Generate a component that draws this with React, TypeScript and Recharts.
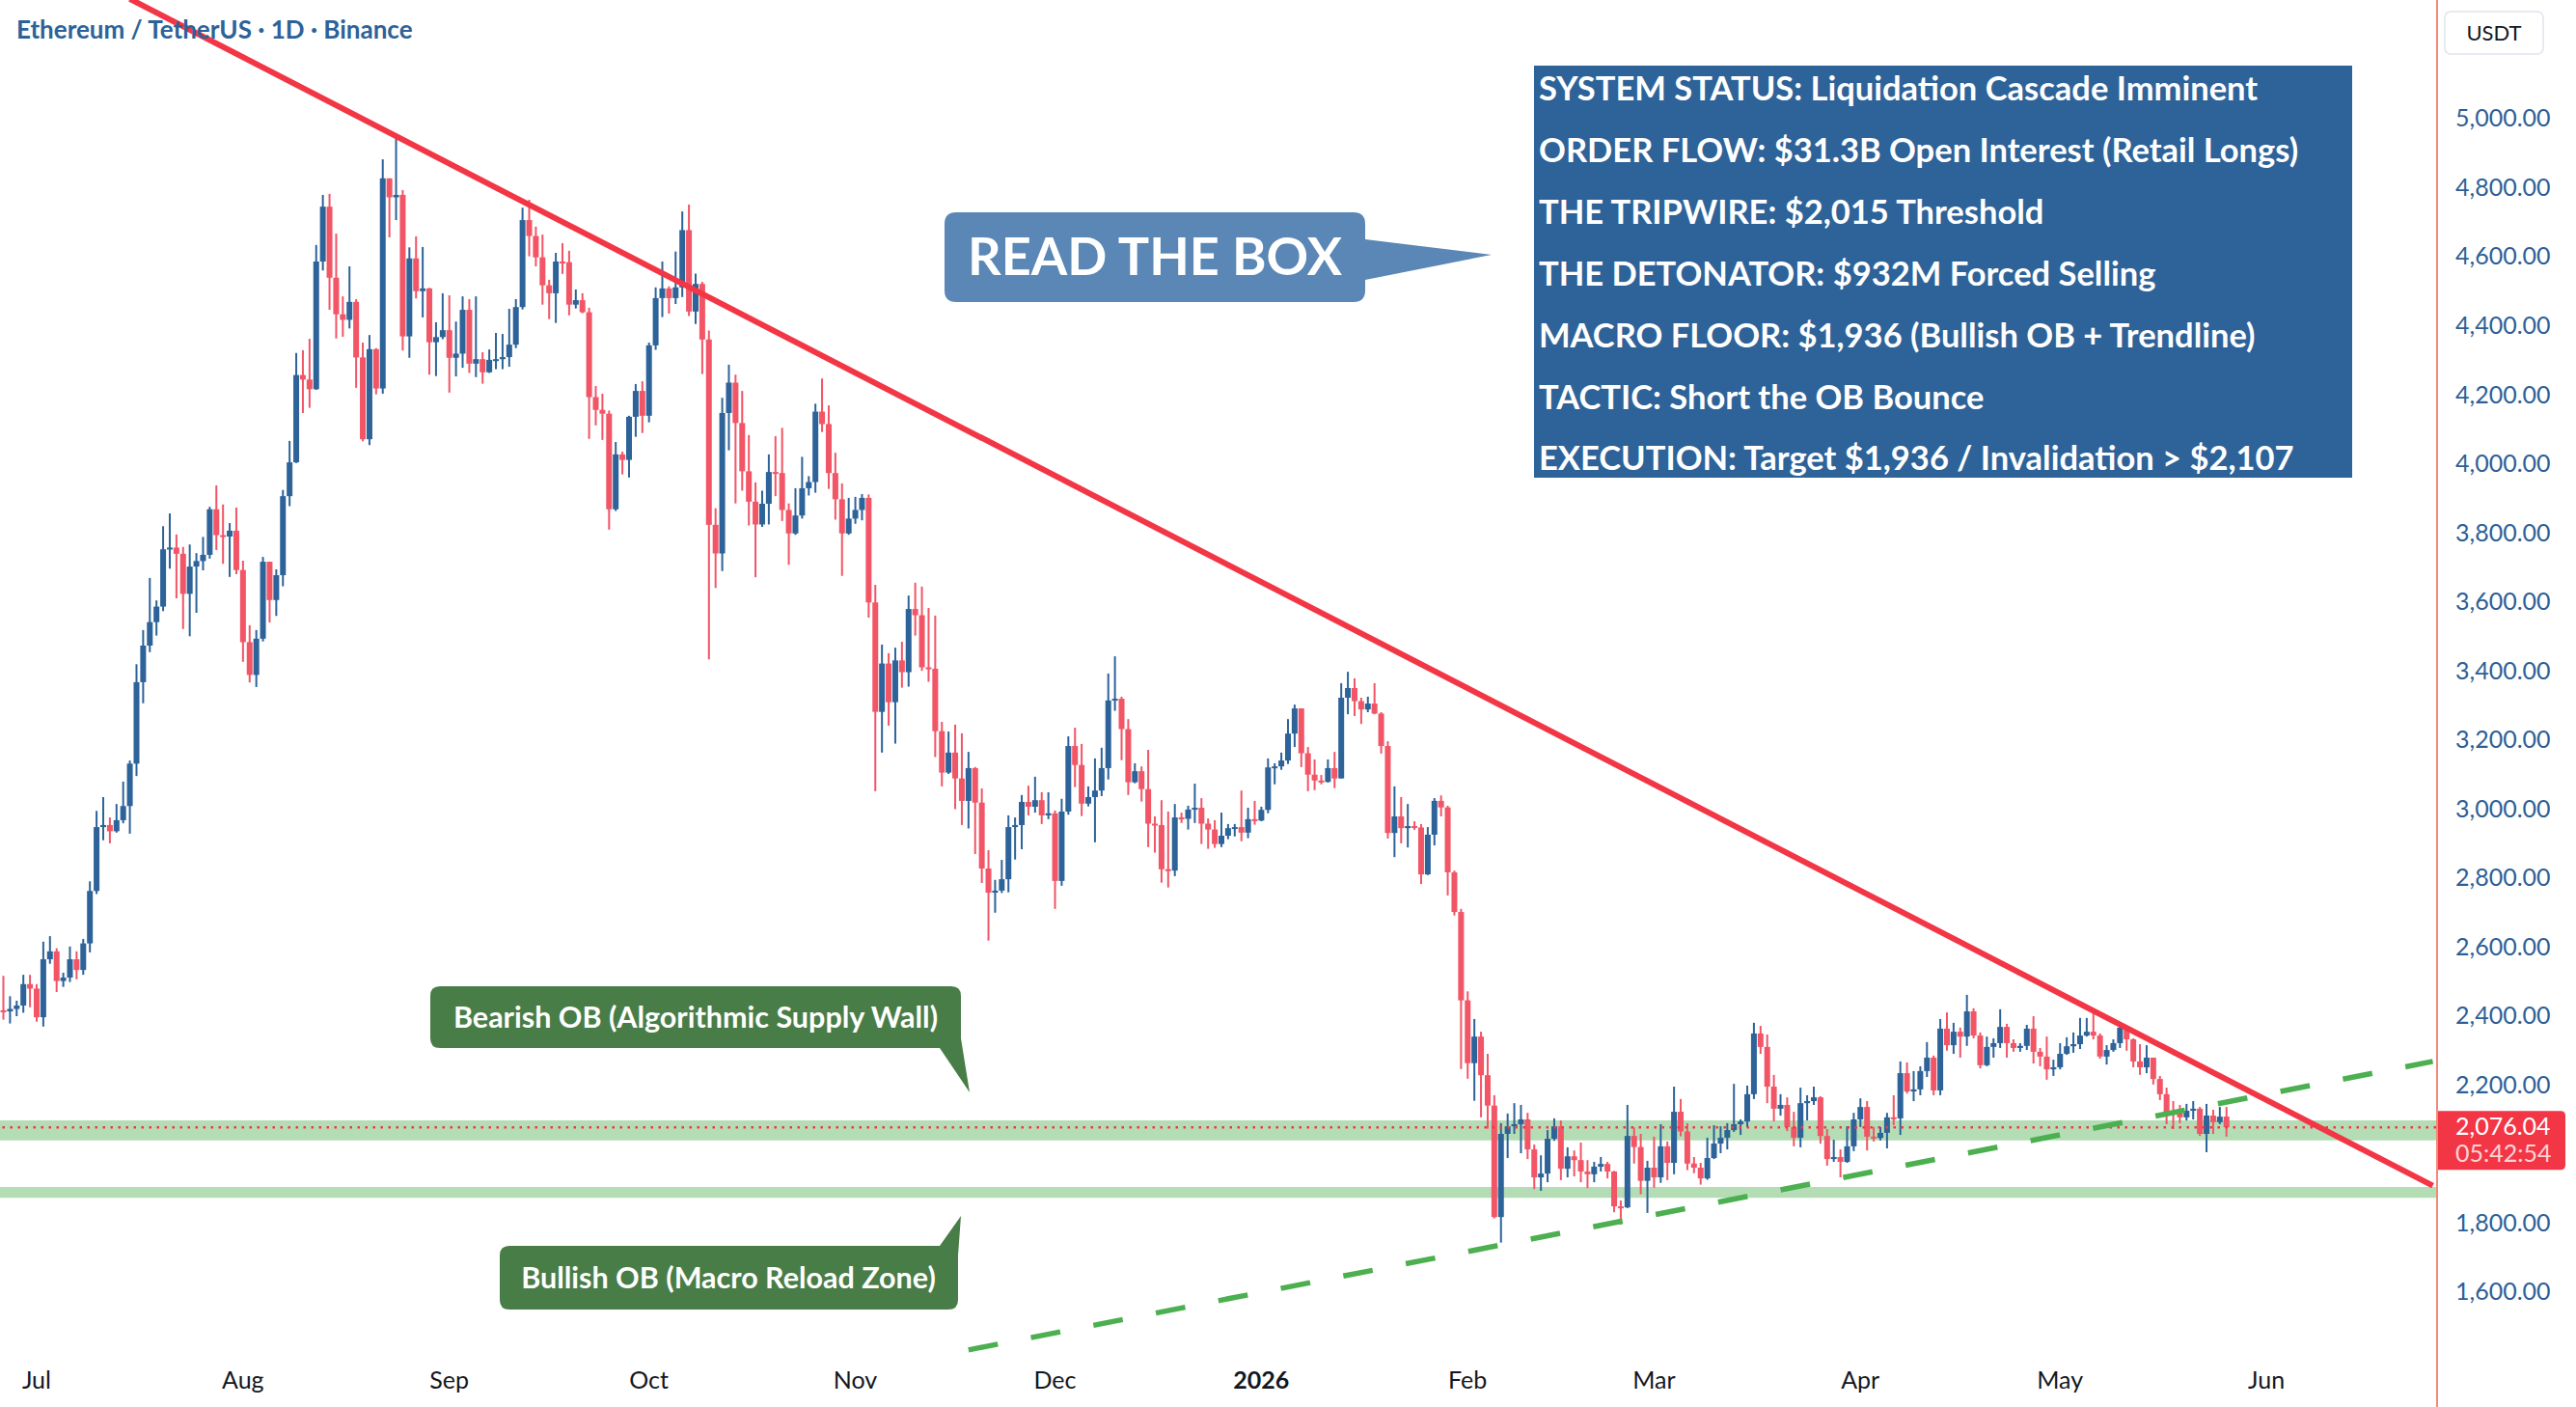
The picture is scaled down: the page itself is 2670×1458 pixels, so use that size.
import React from 'react';
import { ComposedChart, Bar, Line, XAxis, YAxis, ReferenceArea, ReferenceLine } from 'recharts';

const W = 2670;
const H = 1458;
const UP = '#2D6399';
const DOWN = '#F25566';
const RED = '#F23645';
const GREEN = '#4CAF50';
const FONT = 'Lato, "Noto Sans", sans-serif';

// daily ETH/USDT candles starting 26 Jun 2025 (open of a day = previous close)
const firstOpen = 2415;
const closes = [
  2412, 2419, 2429, 2491, 2478,
  // Jul
  2395, 2563, 2586, 2500, 2510, 2563, 2532, 2609, 2761, 2946, 2952, 2934, 2966, 3007, 3130, 3366,
  3472, 3540, 3585, 3751, 3756, 3738, 3622, 3701, 3717, 3735, 3867, 3792, 3788, 3805, 3691,
  // Aug
  3482, 3387, 3492, 3715, 3604, 3676, 3905, 4003, 4256, 4243, 4215, 4585, 4744, 4538, 4432, 4416,
  4468, 4307, 4070, 4331, 4217, 4826, 4771, 4778, 4368, 4594, 4499, 4507, 4351, 4366, 4386,
  // Sep
  4306, 4318, 4445, 4289, 4302, 4264, 4300, 4302, 4308, 4344, 4453, 4705, 4659, 4597, 4516,
  4493, 4585, 4583, 4460, 4473, 4438, 4192, 4155, 4144, 3867, 4026, 4010, 4135, 4210, 4138,
  // Oct
  4342, 4479, 4507, 4479, 4510, 4676, 4440, 4520, 4359, 3822, 3739, 4146, 4234, 4117, 3977, 3889,
  3823, 3883, 3975, 3972, 3865, 3797, 3849, 3928, 3946, 4150, 4114, 3972, 3896, 3797, 3840,
  // Nov
  3865, 3900, 3597, 3280, 3420, 3308, 3429, 3395, 3578, 3560, 3409, 3405, 3224, 3104, 3162,
  3087, 3022, 3117, 3017, 2826, 2756, 2762, 2795, 2946, 2952, 3019, 3005, 3024, 2980, 2986,
  // Dec
  2790, 2991, 3181, 3126, 3014, 3033, 3052, 3117, 3313, 3318, 3230, 3076, 3108, 3056, 2956, 2952,
  2824, 2820, 2974, 2970, 2997, 3002, 2956, 2939, 2897, 2921, 2943, 2946, 2930, 2969, 2965,
  // Jan 2026
  2996, 3119, 3122, 3139, 3217, 3290, 3160, 3098, 3081, 3077, 3117, 3087, 3321, 3349, 3311, 3287,
  3304, 3275, 3181, 2929, 2977, 2943, 2949, 2945, 2809, 2924, 3022, 3003, 2815, 2700, 2444,
  // Feb
  2262, 2339, 2227, 2139, 1816, 2057, 2079, 2085, 2099, 2012, 1931, 1942, 2043, 2079,
  1956, 1992, 1981, 1948, 1940, 1962, 1970, 1948, 1847, 1844, 2051, 2019, 1921, 1959,
  // Mar
  1931, 2021, 1973, 2121, 2064, 1971, 1959, 1928, 1987, 2029, 2046, 2068, 2085, 2093, 2172, 2348,
  2309, 2194, 2130, 2141, 2077, 2046, 2146, 2152, 2163, 2051, 1984, 1990, 1976, 2021, 2099,
  // Apr
  2135, 2049, 2045, 2060, 2105, 2102, 2233, 2180, 2186, 2239, 2278, 2183, 2362, 2314, 2353,
  2339, 2412, 2342, 2256, 2309, 2320, 2367, 2320, 2306, 2312, 2362, 2295, 2281, 2244, 2250,
  // May
  2289, 2311, 2317, 2342, 2353, 2342, 2281, 2300, 2320, 2365, 2331, 2267, 2250,
  2278, 2216, 2172, 2121, 2116, 2105, 2124, 2130, 2057, 2110, 2091, 2107, 2076.04,
];
const highs = [
  2515, 2456, 2443, 2518, 2518,
  2491, 2614, 2630, 2595, 2524, 2600, 2586, 2622, 2789, 2993, 3033, 2974, 3013, 3078, 3139, 3418,
  3517, 3668, 3603, 3818, 3855, 3794, 3758, 3765, 3740, 3787, 3874, 3936, 3881, 3827, 3872,
  3718, 3531, 3517, 3729, 3715, 3693, 3923, 4065, 4320, 4328, 4361, 4633, 4778, 4781, 4666, 4484,
  4571, 4476, 4350, 4372, 4334, 4881, 4826, 4953, 4792, 4626, 4658, 4627, 4509, 4409, 4493,
  4487, 4411, 4484, 4476, 4484, 4322, 4330, 4378, 4375, 4448, 4476, 4741, 4764, 4686, 4663,
  4532, 4610, 4638, 4616, 4504, 4493, 4451, 4224, 4202, 4153, 4062, 4034, 4138, 4230, 4238,
  4350, 4510, 4585, 4513, 4614, 4730, 4750, 4550, 4526, 4385, 3870, 4190, 4286, 4257, 4210, 4082,
  3945, 3921, 4026, 4079, 4103, 3884, 3928, 4019, 3963, 4173, 4246, 4168, 4031, 3942, 3900,
  3903, 3911, 3910, 3648, 3475, 3450, 3466, 3483, 3617, 3654, 3643, 3581, 3559, 3251, 3223,
  3243, 3218, 3164, 3120, 3058, 2879, 2793, 2851, 2980, 2974, 3039, 3066, 3092, 3047, 3047,
  2994, 3028, 3209, 3234, 3187, 3064, 3145, 3176, 3391, 3441, 3324, 3259, 3131, 3122, 3170, 2977,
  3024, 2991, 3013, 2988, 3008, 3072, 3030, 2971, 2966, 2988, 2955, 2955, 3052, 3002, 3022,
  3005, 3145, 3131, 3162, 3259, 3301, 3290, 3178, 3142, 3097, 3142, 3164, 3363, 3396, 3377, 3321,
  3324, 3363, 3279, 3195, 3064, 3033, 3013, 2963, 2955, 2946, 3030, 3038, 3008, 2820, 2709,
  2470, 2390, 2353, 2289, 2169, 2088, 2116, 2146, 2141, 2118, 2026, 1995, 2068, 2102,
  2096, 2018, 2009, 2032, 1981, 1976, 1990, 1976, 1950, 1864, 2141, 2076, 2057, 1979,
  2049, 2085, 2035, 2194, 2158, 2088, 1990, 1973, 2046, 2082, 2079, 2088, 2202, 2099, 2197, 2379,
  2370, 2345, 2228, 2172, 2163, 2121, 2191, 2169, 2194, 2166, 2071, 2040, 2012, 2079, 2118,
  2160, 2152, 2077, 2077, 2118, 2169, 2267, 2264, 2239, 2253, 2323, 2284, 2390, 2409, 2379,
  2365, 2460, 2421, 2351, 2339, 2334, 2418, 2376, 2331, 2320, 2373, 2398, 2306, 2339, 2272,
  2320, 2337, 2351, 2393, 2393, 2407, 2348, 2314, 2331, 2376, 2365, 2334, 2317,
  2314, 2278, 2225, 2191, 2152, 2141, 2144, 2152, 2135, 2144, 2127, 2135, 2135,
];
const lows = [
  2388, 2377, 2398, 2408, 2424,
  2382, 2368, 2550, 2468, 2483, 2497, 2505, 2518, 2583, 2752, 2908, 2899, 2930, 2957, 2927, 3094,
  3305, 3453, 3501, 3572, 3695, 3609, 3520, 3499, 3567, 3690, 3724, 3749, 3709, 3671, 3679,
  3425, 3365, 3352, 3484, 3539, 3558, 3644, 3876, 4001, 4146, 4161, 4213, 4559, 4445, 4362, 4367,
  4391, 4219, 4064, 4053, 4200, 4202, 4655, 4705, 4327, 4306, 4478, 4423, 4257, 4253, 4360,
  4205, 4252, 4277, 4262, 4250, 4231, 4262, 4273, 4273, 4280, 4334, 4446, 4600, 4571, 4460,
  4418, 4407, 4549, 4429, 4449, 4435, 4071, 4110, 4068, 3808, 3862, 3968, 3959, 4077, 4088,
  4119, 4329, 4424, 4434, 4462, 4482, 4427, 4404, 4259, 3432, 3639, 3688, 4038, 3884, 3921, 3820,
  3670, 3816, 3823, 3905, 3833, 3706, 3793, 3840, 3907, 3915, 4091, 3926, 3837, 3674, 3793,
  3825, 3835, 3553, 3050, 3162, 3240, 3188, 3350, 3353, 3501, 3399, 3367, 3149, 3064, 3100,
  2998, 2952, 2942, 2868, 2784, 2617, 2698, 2755, 2757, 2852, 2882, 2980, 2988, 2955, 2969,
  2709, 2776, 2982, 3062, 2978, 3006, 2902, 3036, 3084, 3283, 3140, 3039, 3073, 3020, 2888, 2872,
  2785, 2771, 2804, 2958, 2939, 2958, 2897, 2883, 2886, 2888, 2911, 2919, 2905, 2914, 2953,
  2963, 2986, 3070, 3112, 3129, 3178, 3120, 3050, 3053, 3070, 3075, 3059, 3087, 3273, 3268, 3245,
  3279, 3273, 3159, 2913, 2859, 2899, 2887, 2938, 2781, 2807, 2893, 2977, 2748, 2690, 2245,
  2217, 2153, 2105, 2072, 1812, 1742, 1987, 2057, 2001, 1984, 1897, 1892, 1917, 2037,
  1923, 1931, 1934, 1917, 1900, 1917, 1948, 1928, 1830, 1794, 1842, 1971, 1882, 1828,
  1901, 1915, 1923, 1940, 2050, 1952, 1943, 1910, 1924, 1984, 2001, 2012, 2063, 2054, 2077, 2158,
  2289, 2146, 2093, 2110, 2065, 2021, 2018, 2096, 2141, 2029, 1965, 1976, 1931, 1973, 2007,
  2077, 2009, 2035, 2038, 2015, 2082, 2054, 2174, 2152, 2169, 2222, 2169, 2169, 2298, 2289,
  2278, 2312, 2334, 2247, 2253, 2278, 2306, 2278, 2295, 2295, 2300, 2261, 2253, 2214, 2225,
  2244, 2286, 2292, 2303, 2339, 2331, 2275, 2258, 2295, 2306, 2298, 2250, 2228,
  2233, 2200, 2155, 2085, 2071, 2088, 2096, 2099, 2051, 2004, 2057, 2085, 2049,
];

const totalDays = 366; // visible range incl. empty space on the right
const startMs = Date.UTC(2025, 5, 26);
const monthNames = ['Jan', 'Feb', 'Mar', 'Apr', 'May', 'Jun', 'Jul', 'Aug', 'Sep', 'Oct', 'Nov', 'Dec'];

// 2,000.00 is hidden behind the last-price tag, like on the original
const priceTicks = [1600, 1800, 2200, 2400, 2600, 2800, 3000, 3200, 3400, 3600, 3800, 4000, 4200, 4400, 4600, 4800, 5000];
const yDomain = [1413.8, 5342.8];
const bearishOB = [2038, 2096];
const bullishOB = [1872, 1903];
const lastPrice = 2076.04;
const countdown = '05:42:54';
const redTrend = [{ i: 19, p: 5346 }, { i: 365, p: 1907 }];
const greenTrend = [{ i: 145, p: 1431 }, { i: 365, p: 2267 }];

const infoLines = [
  'SYSTEM STATUS: Liquidation Cascade Imminent',
  'ORDER FLOW: $31.3B Open Interest (Retail Longs)',
  'THE TRIPWIRE: $2,015 Threshold',
  'THE DETONATOR: $932M Forced Selling',
  'MACRO FLOOR: $1,936 (Bullish OB + Trendline)',
  'TACTIC: Short the OB Bounce',
  'EXECUTION: Target $1,936 / Invalidation > $2,107',
];

const dayDate = (i: number) => new Date(startMs + i * 86400000);

const data: any[] = Array.from({ length: totalDays }, (_, i) => {
  const row: any = { i };
  if (i < closes.length) {
    row.o = i === 0 ? firstOpen : closes[i - 1];
    row.c = closes[i];
    row.h = highs[i];
    row.l = lows[i];
    row.hl = [lows[i], highs[i]];
  }
  return row;
});
redTrend.forEach((p) => (data[p.i].tr = p.p));
greenTrend.forEach((p) => (data[p.i].tg = p.p));

const monthTicks = data.filter((r) => dayDate(r.i).getUTCDate() === 1).map((r) => r.i);

const fmtPrice = (v: number) => v.toLocaleString('en-US', { minimumFractionDigits: 2, maximumFractionDigits: 2 });

const Candle = (props: any) => {
  const { x, y, width, height, payload } = props;
  if (!payload || payload.h == null || !isFinite(y) || !isFinite(height)) return null;
  const { o, h, l, c } = payload;
  const color = c >= o ? UP : DOWN;
  const top = Math.min(y, y + height);
  const span = Math.abs(height);
  const k = span / (h - l);
  const bTop = top + (h - Math.max(o, c)) * k;
  const bBot = top + (h - Math.min(o, c)) * k;
  const cx = x + width / 2;
  const bw = 6;
  return (
    <g>
      <rect x={cx - 1} y={top} width={2} height={span} fill={color} />
      <rect x={cx - bw / 2} y={bTop} width={bw} height={Math.max(bBot - bTop, 2)} fill={color} />
    </g>
  );
};

const MonthTick = (props: any) => {
  const { x, y, payload } = props;
  const d = dayDate(payload.value);
  const isYear = d.getUTCMonth() === 0;
  return (
    <text x={x} y={y + 34} textAnchor="middle" fontSize={25} fontFamily={FONT}
      fontWeight={isYear ? 700 : 400} fill="#131722">
      {isYear ? String(d.getUTCFullYear()) : monthNames[d.getUTCMonth()]}
    </text>
  );
};

const PriceTag = (props: any) => {
  const vb = props.viewBox || {};
  const x = (vb.x || 0) + (vb.width || 0) + 1;
  const y = vb.y || 0;
  const w = 133, h = 61, r = 5, t = y - 17;
  const d = `M${x},${t} H${x + w - r} Q${x + w},${t} ${x + w},${t + r} V${t + h - r} Q${x + w},${t + h} ${x + w - r},${t + h} H${x} Z`;
  return (
    <g>
      <path d={d} fill={RED} />
      <text x={x + 19} y={y + 8} fontSize={25} fontFamily={FONT} fill="#fff">{fmtPrice(lastPrice)}</text>
      <text x={x + 19} y={y + 36} fontSize={25} fontFamily={FONT} fill="#fff" fillOpacity={0.8}>{countdown}</text>
    </g>
  );
};

export default function App() {
  return (
    <div style={{ position: 'relative', width: W, height: H, background: '#fff' }}>
      <style>{'body{margin:0}'}</style>
      <ComposedChart width={W} height={H} data={data} margin={{ top: 0, right: 0, bottom: 0, left: 0 }} barCategoryGap={0}>
        <XAxis dataKey="i" type="category" ticks={monthTicks} interval={0} tick={<MonthTick />}
          tickLine={false} axisLine={false} tickSize={0} tickMargin={0} height={53} />
        <YAxis orientation="right" width={145} domain={yDomain} allowDataOverflow ticks={priceTicks}
          tickFormatter={fmtPrice} tickLine={false} axisLine={false} tickSize={0} tickMargin={20}
          tick={{ fontSize: 25, fontFamily: FONT, fill: '#2D5F96' }} />
        <Bar dataKey="hl" shape={<Candle />} isAnimationActive={false} />
        <ReferenceArea y1={bearishOB[0]} y2={bearishOB[1]} fill={GREEN} fillOpacity={0.42} stroke="none" ifOverflow="hidden" />
        <ReferenceArea y1={bullishOB[0]} y2={bullishOB[1]} fill={GREEN} fillOpacity={0.42} stroke="none" ifOverflow="hidden" />
        <ReferenceLine y={lastPrice} stroke={RED} strokeWidth={2.5} strokeDasharray="2.5 5.5" label={<PriceTag />} />
        <Line dataKey="tr" stroke={RED} strokeWidth={6} dot={false} activeDot={false} connectNulls isAnimationActive={false} />
        <Line dataKey="tg" stroke={GREEN} strokeWidth={5.5} strokeDasharray="31 35" dot={false} activeDot={false} connectNulls isAnimationActive={false} />
      </ComposedChart>

      <svg width={W} height={H} style={{ position: 'absolute', left: 0, top: 0, pointerEvents: 'none' }}>
        <line x1={2526} x2={2526} y1={0} y2={H} stroke="#EF8B78" strokeWidth={2} />
        <rect x={2534} y={12} width={102} height={44} rx={6} fill="#fff" stroke="#E0E3EB" strokeWidth={1.5} />
        <text x={2585} y={42} textAnchor="middle" fontSize={22} fontFamily={FONT} fill="#131722">USDT</text>

        <text x={17} y={40} fontSize={26} fontWeight={700} fontFamily={FONT} fill="#2D6299">
          Ethereum / TetherUS · 1D · Binance
        </text>

        <rect x={1590} y={68} width={848} height={427} fill="#2E6399" />
        {infoLines.map((t, k) => (
          <text key={k} x={1595} y={104 + k * 63.9} fontSize={34.5} fontWeight={700} fontFamily={FONT} fill="#fff">{t}</text>
        ))}

        <path d="M991,220 H1403 Q1415,220 1415,232 V248 L1546,264 L1415,290 V301 Q1415,313 1403,313 H991 Q979,313 979,301 V232 Q979,220 991,220 Z" fill="#5A87B5" />
        <text x={1197} y={285} textAnchor="middle" fontSize={54} fontWeight={700} fontFamily={FONT} fill="#fff">READ THE BOX</text>

        <path d="M456,1022 H986 Q996,1022 996,1032 V1076 L1005,1132 L974,1086 H456 Q446,1086 446,1076 V1032 Q446,1022 456,1022 Z" fill="#497D47" />
        <text x={721} y={1065} textAnchor="middle" fontSize={30.5} fontWeight={700} fontFamily={FONT} fill="#fff">Bearish OB (Algorithmic Supply Wall)</text>

        <path d="M528,1291 H974 L996,1260 L993,1301 V1347 Q993,1357 983,1357 H528 Q518,1357 518,1347 V1301 Q518,1291 528,1291 Z" fill="#497D47" />
        <text x={755} y={1335} textAnchor="middle" fontSize={30.5} fontWeight={700} fontFamily={FONT} fill="#fff">Bullish OB (Macro Reload Zone)</text>
      </svg>
    </div>
  );
}
